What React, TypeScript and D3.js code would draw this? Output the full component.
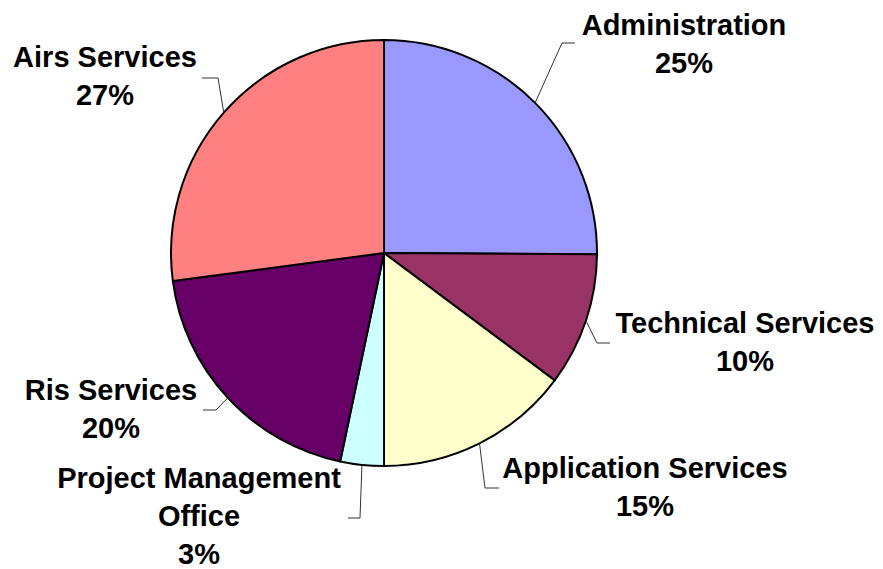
import React from 'react';
import * as d3 from 'd3';

const categories = ['Administration', 'Technical Services', 'Application Services', 'Project Management Office', 'Ris Services', 'Airs Services'];
const values = [25.1, 10.1, 14.8, 3.3, 19.6, 27.1];
const colors = ['#9999FF', '#993366', '#FFFFCC', '#CCFFFF', '#660066', '#FF8080'];
// label text lines (name split as in the picture)
const labelLines = [['Administration'], ['Technical Services'], ['Application Services'], ['Project Management', 'Office'], ['Ris Services'], ['Airs Services']];

// label layout: text centre x, first baseline, leader elbow and end
const labelLayout = [
  { x: 684, y: 35, elbow: [562, 43], endX: 575 },
  { x: 745, y: 333, elbow: [597, 343], endX: 610 },
  { x: 645, y: 478, elbow: [485, 488], endX: 499 },
  { x: 199, y: 488, elbow: [360, 518], endX: 348 },
  { x: 111, y: 400, elbow: [216, 410], endX: 203 },
  { x: 105, y: 67, elbow: [218, 78], endX: 202 },
];

const W = 883;
const H = 569;
const cx = 384;
const cy = 253;
const R = 213;
const lineGap = 38;

export default function App() {
  const pie = d3.pie<number>().sort(null).value(d => d);
  const arcs = pie(values);
  const arc = d3.arc<d3.PieArcDatum<number>>().innerRadius(0).outerRadius(R);

  return (
    <svg width={W} height={H} style={{ position: 'absolute', left: 0, top: 0, background: '#fff' }}>
      <g transform={`translate(${cx},${cy})`}>
        {arcs.map((a, i) => (
          <path key={i} d={arc(a) || ''} fill={colors[i]} stroke="#000" strokeWidth={2} strokeLinejoin="round" />
        ))}
      </g>
      {arcs.map((a, i) => {
        const mid = (a.startAngle + a.endAngle) / 2;
        const sx = cx + Math.sin(mid) * R;
        const sy = cy - Math.cos(mid) * R;
        const L = labelLayout[i];
        return (
          <polyline key={'l' + i} points={`${sx},${sy} ${L.elbow[0]},${L.elbow[1]} ${L.endX},${L.elbow[1]}`}
            fill="none" stroke="#333" strokeWidth={1} />
        );
      })}
      {arcs.map((a, i) => {
        const L = labelLayout[i];
        const lines = [...labelLines[i], `${Math.round(values[i])}%`];
        return (
          <text key={'t' + i} x={L.x} y={L.y} textAnchor="middle" fontFamily="'Liberation Sans', Arial, sans-serif"
            fontWeight="bold" fontSize={29} fill="#000">
            {lines.map((s, j) => (
              <tspan key={j} x={L.x} y={L.y + j * lineGap}>{s}</tspan>
            ))}
          </text>
        );
      })}
    </svg>
  );
}
